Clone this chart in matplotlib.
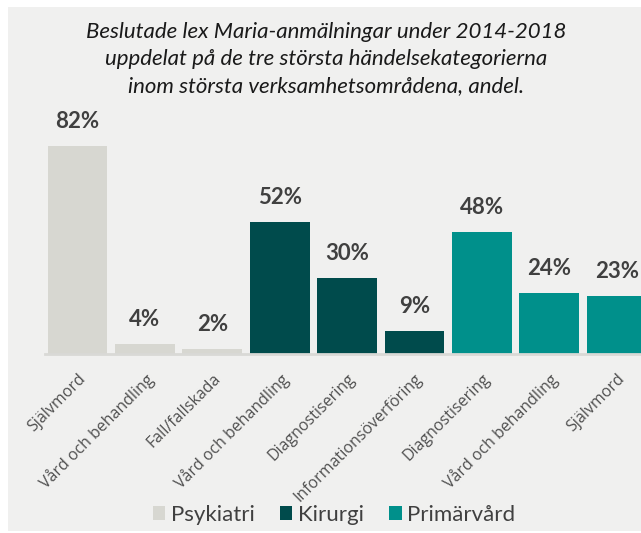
import matplotlib.pyplot as plt
from matplotlib.patches import Rectangle, Patch

# Data
kategorier = ["Självmord", "Vård och behandling", "Fall/fallskada",
              "Vård och behandling", "Diagnostisering", "Informationsöverföring",
              "Diagnostisering", "Vård och behandling", "Självmord"]
andel = [82, 4, 2, 52, 30, 9, 48, 24, 23]
omrade = ["Psykiatri", "Psykiatri", "Psykiatri",
          "Kirurgi", "Kirurgi", "Kirurgi",
          "Primärvård", "Primärvård", "Primärvård"]
omraden = ["Psykiatri", "Kirurgi", "Primärvård"]

farger = {"Psykiatri": "#d7d7d1", "Kirurgi": "#004b4c", "Primärvård": "#00908b"}
bg = "#f0f0ef"
textfarg = "#404040"

plt.rcParams['font.family'] = ['Lato', 'DejaVu Sans']

W, H = 641, 533
fig = plt.figure(figsize=(W / 100, H / 100), dpi=100, facecolor="white")
fig.patches.append(Rectangle((8 / W, 2 / H), 1 - 8 / W, 1 - 9 / H,
                             transform=fig.transFigure, facecolor=bg,
                             edgecolor="none", zorder=-1))

# axes placement (pixels)
ax_left, ax_right = 45, 641
base_y, top_y = 354, 100
ax = fig.add_axes([ax_left / W, (H - base_y) / H,
                   (ax_right - ax_left) / W, (base_y - top_y) / H])
ax.set_facecolor("none")

pitch = 67.4
c0 = 77.5
ax.set_xlim((ax_left - c0) / pitch, (ax_right - c0) / pitch)
ax.set_ylim(0, 100)

x = range(len(andel))
ax.bar(x, andel, width=0.89, color=[farger[o] for o in omrade], zorder=2)

for xi, v in zip(x, andel):
    ax.text(xi, v + 5.5, f"{v}%", ha="center", va="bottom", fontsize=16,
            fontweight="bold", color=textfarg)

for s in ["top", "right", "left"]:
    ax.spines[s].set_visible(False)
ax.spines["bottom"].set_color("#d9d9d6")
ax.spines["bottom"].set_linewidth(2)
ax.set_yticks([])
ax.set_xticks(list(x))
ax.set_xticklabels(kategorier, rotation=45, ha="right", rotation_mode="anchor",
                   fontsize=11.5, color="#505050", family=["Open Sans", "DejaVu Sans"])
ax.tick_params(axis="x", length=0, pad=12)

fig.text(326 / W, 1 - 59 / H,
         "Beslutade lex Maria-anmälningar under 2014-2018\n"
         "uppdelat på de tre största händelsekategorierna\n"
         "inom största verksamhetsområdena, andel.",
         ha="center", va="center", fontsize=16, style="italic",
         color="#1a1a1a", linespacing=1.42)

handles = [Patch(facecolor=farger[o], label=o) for o in omraden]
fig.legend(handles=handles, loc="center", bbox_to_anchor=(334 / W, 1 - 515 / H),
           ncol=3, frameon=False, fontsize=16, handlelength=0.55,
           handleheight=0.55, handletextpad=0.25, columnspacing=1.15,
           labelcolor=textfarg)

fig.savefig("out.png", dpi=100, facecolor="white")
